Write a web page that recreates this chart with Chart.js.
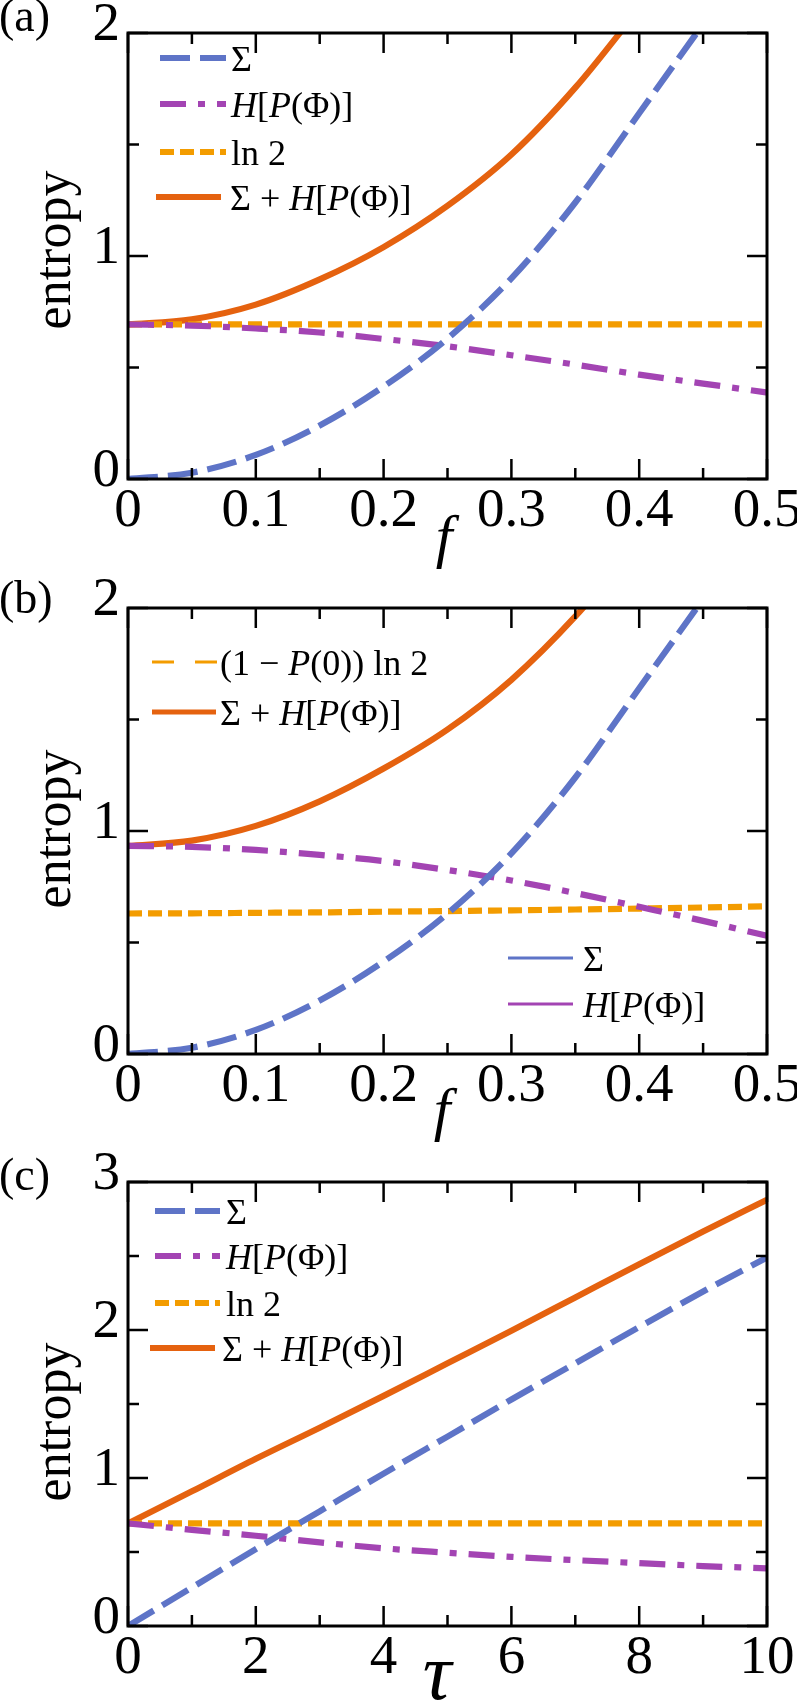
<!DOCTYPE html>
<html><head><meta charset="utf-8">
<script src="https://cdn.jsdelivr.net/npm/chart.js@4"></script>
<style>
html,body{margin:0;padding:0;background:#fff;width:797px;height:1702px;overflow:hidden;}
.panel{position:absolute;left:0;width:797px;}
canvas{display:block;}
</style></head><body>
<div class="panel" style="top:0px;height:575px"><canvas id="ca" width="797" height="575"></canvas></div>
<div class="panel" style="top:575px;height:575px"><canvas id="cb" width="797" height="575"></canvas></div>
<div class="panel" style="top:1150px;height:552px"><canvas id="cc" width="797" height="552"></canvas></div>
<script>
// ---------------- data ----------------
// panel (a)
const fA = [0, 0.05, 0.1, 0.15, 0.2, 0.25, 0.3, 0.35, 0.4, 0.45, 0.5];
const sigmaA = [0, 0.028, 0.108, 0.24, 0.415, 0.63, 0.9, 1.24, 1.64, 2.04];
const hA = [0.693, 0.688, 0.675, 0.657, 0.628, 0.595, 0.555, 0.513, 0.468, 0.428, 0.388];
const ln2A = [0.693, 0.693, 0.693, 0.693, 0.693, 0.693, 0.693, 0.693, 0.693, 0.693, 0.693];
const sumA = [0.693, 0.716, 0.782, 0.895, 1.04, 1.225, 1.455, 1.755, 2.11];
// panel (b)
const fB = [0, 0.05, 0.1, 0.15, 0.2, 0.25, 0.3, 0.35, 0.4, 0.45, 0.5];
const sigmaB = [0, 0.028, 0.108, 0.24, 0.415, 0.63, 0.9, 1.24, 1.64, 2.04];
const hB = [0.933, 0.929, 0.915, 0.893, 0.865, 0.825, 0.778, 0.722, 0.66, 0.597, 0.53];
const p0ln2B = [0.630, 0.631, 0.633, 0.635, 0.638, 0.641, 0.644, 0.648, 0.652, 0.657, 0.662];
const sumB = [0.933, 0.957, 1.023, 1.133, 1.28, 1.455, 1.678, 1.962, 2.3];
// panel (c)
const tauC = [0, 1, 2, 3, 4, 5, 6, 7, 8, 9, 10];
const sigmaC = [0, 0.26, 0.52, 0.775, 1.03, 1.28, 1.53, 1.775, 2.02, 2.26, 2.49];
const hC = [0.693, 0.65, 0.61, 0.565, 0.525, 0.495, 0.467, 0.445, 0.425, 0.405, 0.39];
const ln2C = [0.693, 0.693, 0.693, 0.693, 0.693, 0.693, 0.693, 0.693, 0.693, 0.693, 0.693];
const sumC = [0.693, 0.91, 1.13, 1.34, 1.555, 1.775, 1.995, 2.22, 2.445, 2.665, 2.88];
// ticks
const fTicks = [0, 0.1, 0.2, 0.3, 0.4, 0.5];
const fMinor = [0.05, 0.15, 0.25, 0.35, 0.45];
const yTicksAB = [0, 1, 2];
const yMinorAB = [0.5, 1.5];
const tauTicks = [0, 2, 4, 6, 8, 10];
const tauMinor = [1, 3, 5, 7, 9];
const yTicksC = [0, 1, 2, 3];
const yMinorC = [0.5, 1.5, 2.5];

// ---------------- styles ----------------
const FONT = '"Liberation Serif", "Times New Roman", serif';
const ST = {
  sigma: {c: '#5e74c7', w: 6.2, d: [30, 10]},
  H:     {c: '#a344b3', w: 6.2, d: [26, 12, 7, 12]},
  ln2:   {c: '#f39c00', w: 6.2, d: [14, 6]},
  sum:   {c: '#e5620f', w: 6.2, d: []}
};
const pts = (xs, ys) => ys.map((y, i) => ({x: xs[i], y}));
function ds(label, xs, ys, st, order) {
  return {label, data: pts(xs, ys), borderColor: st.c, borderWidth: st.w, borderDash: st.d,
    pointRadius: 0, fill: false, cubicInterpolationMode: 'monotone', order, clip: 1, borderCapStyle: 'butt'};
}
const SEG = {
  sigma: [['Σ', 0]],
  H: [['H', 1], ['[', 0], ['P', 1], ['(Φ)]', 0]],
  ln2: [['ln 2', 0]],
  sum: [['Σ + ', 0], ['H', 1], ['[', 0], ['P', 1], ['(Φ)]', 0]],
  p0: [['(1 − ', 0], ['P', 1], ['(0)) ln 2', 0]]
};

// ---------------- plugins ----------------
const framePlugin = {
  id: 'frame',
  afterDatasetsDraw(chart, args, o) {
    const {ctx, chartArea: a, scales: {x, y}} = chart;
    ctx.save();
    ctx.setLineDash([]);
    ctx.strokeStyle = '#000';
    ctx.lineWidth = 2.5;
    const tk = (vals, len, isX) => {
      for (const v of vals) {
        if (isX) {
          const p = x.getPixelForValue(v);
          ctx.beginPath(); ctx.moveTo(p, a.bottom); ctx.lineTo(p, a.bottom - len);
          ctx.moveTo(p, a.top); ctx.lineTo(p, a.top + len); ctx.stroke();
        } else {
          const p = y.getPixelForValue(v);
          ctx.beginPath(); ctx.moveTo(a.left, p); ctx.lineTo(a.left + len, p);
          ctx.moveTo(a.right, p); ctx.lineTo(a.right - len, p); ctx.stroke();
        }
      }
    };
    tk(o.xMajor, 20, true); tk(o.xMinor, 11, true);
    tk(o.yMajor, 20, false); tk(o.yMinor, 11, false);
    ctx.lineWidth = 3;
    ctx.strokeRect(a.left, a.top, a.right - a.left, a.bottom - a.top);
    ctx.restore();
  },
  afterDraw(chart, args, o) {
    const ctx = chart.ctx;
    ctx.save();
    ctx.fillStyle = '#000';
    ctx.textBaseline = 'alphabetic';
    // panel label
    ctx.font = '46px ' + FONT; ctx.textAlign = 'left';
    ctx.fillText(o.panel, -1, o.panelY);
    // y title
    ctx.save();
    ctx.translate(o.yTitleX, o.yTitleY); ctx.rotate(-Math.PI / 2);
    ctx.font = '52px ' + FONT; ctx.textAlign = 'center';
    ctx.fillText('entropy', 0, 0);
    ctx.restore();
    // x title
    ctx.font = 'italic ' + o.xTitleSize + 'px ' + FONT; ctx.textAlign = 'center';
    ctx.fillText(o.xTitle, o.xTitleX, o.xTitleY);
    // legend
    ctx.textAlign = 'left';
    for (const r of o.legend) {
      ctx.save();
      ctx.strokeStyle = r.c; ctx.lineWidth = r.w; ctx.setLineDash(r.d); ctx.lineCap = 'butt';
      ctx.beginPath(); ctx.moveTo(r.x1, r.y); ctx.lineTo(r.x2, r.y); ctx.stroke();
      ctx.restore();
      let x = r.tx;
      for (const [t, it] of r.segs) {
        ctx.font = (it ? 'italic ' : '') + '36px ' + FONT;
        ctx.fillText(t, x, r.y + 13);
        x += ctx.measureText(t).width;
      }
    }
    ctx.restore();
  }
};

function xScale(min, max, ticks, h) {
  return {
    type: 'linear', position: 'bottom', min, max,
    afterBuildTicks: s => { s.ticks = ticks.map(v => ({value: v})); },
    afterFit: s => { s.height = h; s.paddingLeft = 0; s.paddingRight = 0; },
    grid: {display: false, drawTicks: false}, border: {display: false},
    ticks: {font: {family: FONT, size: 55}, color: '#000', padding: 0, maxRotation: 0, minRotation: 0,
      autoSkip: false, callback: v => String(v)}
  };
}
function yScale(min, max, ticks) {
  return {
    type: 'linear', position: 'left', min, max,
    afterBuildTicks: s => { s.ticks = ticks.map(v => ({value: v})); },
    afterFit: s => { s.width = 128; s.paddingTop = 0; s.paddingBottom = 0; },
    grid: {display: false, drawTicks: false}, border: {display: false},
    ticks: {font: {family: FONT, size: 55}, color: '#000', padding: 8, labelOffset: -7,
      autoSkip: false, callback: v => String(v)}
  };
}
function make(id, datasets, xs, ys, top, frame) {
  return new Chart(document.getElementById(id), {
    type: 'line',
    data: {datasets},
    options: {
      responsive: false, animation: false, devicePixelRatio: 1, events: [],
      layout: {padding: {top, right: 30, left: 0, bottom: 0}},
      scales: {x: xs, y: ys},
      plugins: {legend: {display: false}, tooltip: {enabled: false}, frame}
    },
    plugins: [framePlugin]
  });
}
const lg = (st, y, x1, x2, tx, segs, w, d) => ({c: ST[st].c, w: w || ST[st].w, d: d || ST[st].d, y, x1, x2, tx, segs});

// (a)
make('ca', [
  ds('Σ', fA, sigmaA, ST.sigma, 1),
  ds('H[P(Φ)]', fA, hA, ST.H, 2),
  ds('ln 2', fA, ln2A, ST.ln2, 3),
  ds('Σ + H[P(Φ)]', fA, sumA, ST.sum, 4)
], xScale(0, 0.5, fTicks, 96), yScale(0, 2, yTicksAB), 33, {
  xMajor: fTicks, xMinor: fMinor, yMajor: yTicksAB, yMinor: yMinorAB,
  panel: '(a)', panelY: 31, yTitleX: 70, yTitleY: 250,
  xTitle: 'f', xTitleSize: 60, xTitleX: 444, xTitleY: 556,
  legend: [
    lg('sigma', 58, 160, 226, 231, SEG.sigma),
    lg('H', 104, 160, 226, 231, SEG.H),
    lg('ln2', 152, 160, 226, 231, SEG.ln2),
    lg('sum', 197, 156, 221, 230, SEG.sum)
  ]
});
// (b)
make('cb', [
  ds('Σ', fB, sigmaB, ST.sigma, 1),
  ds('H[P(Φ)]', fB, hB, ST.H, 2),
  ds('(1 − P(0)) ln 2', fB, p0ln2B, ST.ln2, 3),
  ds('Σ + H[P(Φ)]', fB, sumB, ST.sum, 4)
], xScale(0, 0.5, fTicks, 96), yScale(0, 2, yTicksAB), 33, {
  xMajor: fTicks, xMinor: fMinor, yMajor: yTicksAB, yMinor: yMinorAB,
  panel: '(b)', panelY: 38, yTitleX: 70, yTitleY: 254,
  xTitle: 'f', xTitleSize: 60, xTitleX: 442, xTitleY: 554,
  legend: [
    lg('ln2', 87, 152, 217, 220, SEG.p0, 3, [22, 21]),
    lg('sum', 137, 152, 216, 220, SEG.sum, 5),
    lg('sigma', 383, 508, 573, 583, SEG.sigma, 3, []),
    lg('H', 429, 508, 573, 583, SEG.H, 3, [])
  ]
});
// (c)
make('cc', [
  ds('Σ', tauC, sigmaC, ST.sigma, 1),
  ds('H[P(Φ)]', tauC, hC, ST.H, 2),
  ds('ln 2', tauC, ln2C, ST.ln2, 3),
  ds('Σ + H[P(Φ)]', tauC, sumC, ST.sum, 4)
], xScale(0, 10, tauTicks, 76), yScale(0, 3, yTicksC), 32, {
  xMajor: tauTicks, xMinor: tauMinor, yMajor: yTicksC, yMinor: yMinorC,
  panel: '(c)', panelY: 40, yTitleX: 70, yTitleY: 272,
  xTitle: 'τ', xTitleSize: 80, xTitleX: 437, xTitleY: 549,
  legend: [
    lg('sigma', 61, 155, 220, 226, SEG.sigma),
    lg('H', 106, 155, 220, 226, SEG.H),
    lg('ln2', 153, 155, 220, 226, SEG.ln2),
    lg('sum', 198, 150, 215, 222, SEG.sum)
  ]
});
</script>
</body></html>
